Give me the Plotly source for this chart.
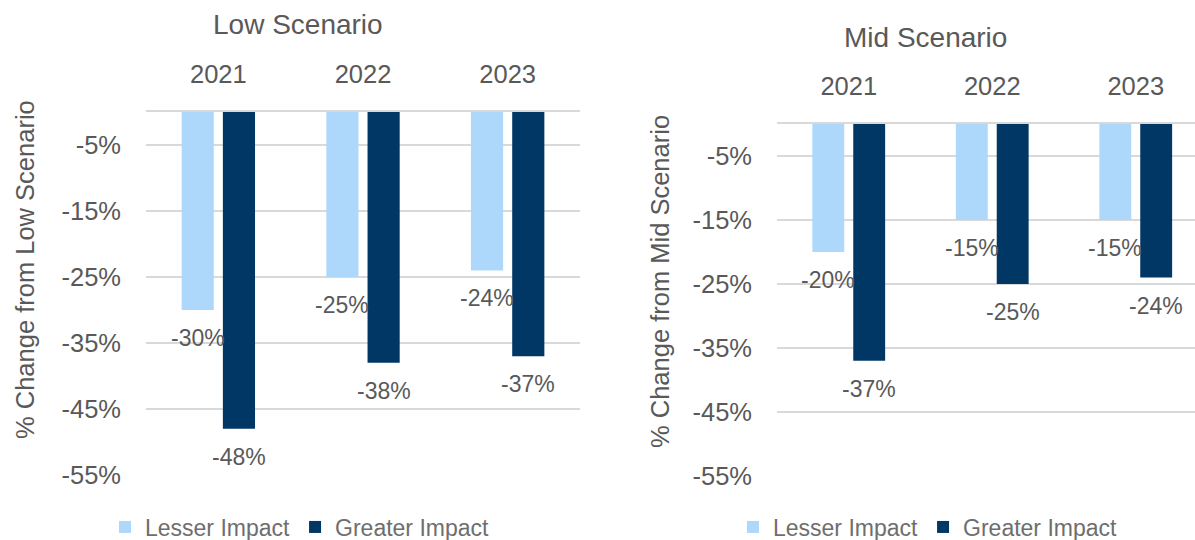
import plotly.graph_objects as go

# Data (percent change)
years = ["2021", "2022", "2023"]
low_lesser = [-30, -25, -24]
low_greater = [-48, -38, -37]
mid_lesser = [-20, -15, -15]
mid_greater = [-37, -25, -24]
tick_vals = [-5, -15, -25, -35, -45, -55]
tick_text = ["-5%", "-15%", "-25%", "-35%", "-45%", "-55%"]
series_names = ["Lesser Impact", "Greater Impact"]

W, H = 1195, 540
LIGHT = "#ADD8FB"
DARK = "#003764"
TEXT = "#595959"
GRID = "#D9D9D9"
FONT = "Liberation Sans"
BARGAP, GROUPGAP = 0.43, 0.22


def px_x(p):
    return p / W


def px_y(p):
    return 1 - p / H


fig = go.Figure()

panels = [
    dict(xa="x", ya="y", legend="legend", lesser=low_lesser, greater=low_greater),
    dict(xa="x2", ya="y2", legend="legend2", lesser=mid_lesser, greater=mid_greater),
]

for p in panels:
    for name, vals, color in [(series_names[0], p["lesser"], LIGHT),
                              (series_names[1], p["greater"], DARK)]:
        fig.add_trace(go.Bar(
            x=years, y=vals, name=name, marker=dict(color=color, line_width=0),
            xaxis=p["xa"], yaxis=p["ya"], legend=p["legend"], hoverinfo="skip",
        ))

# Value labels placed just below each bar end
slot = (1 - BARGAP) / 2
annotations = []
for p in panels:
    for k, vals in enumerate([p["lesser"], p["greater"]]):
        for i, v in enumerate(vals):
            annotations.append(dict(
                x=i + (k - 0.5) * slot, y=v, xref=p["xa"], yref=p["ya"],
                xanchor="center", yanchor="middle",
                text=f"{v}%", showarrow=False, yshift=-28,
                font=dict(family=FONT, size=23, color=TEXT),
            ))


def paper_text(x, y, text, size, angle=0):
    return dict(x=px_x(x), y=px_y(y), xref="paper", yref="paper", text=text,
                xanchor="center", yanchor="middle", textangle=angle,
                showarrow=False, font=dict(family=FONT, size=size, color=TEXT))


# Panel titles and axis titles
annotations += [
    paper_text(298, 25, "Low Scenario", 28),
    paper_text(925, 37, "Mid Scenario", 28),
    paper_text(25, 270, "% Change from Low Scenario", 25.5, -90),
    paper_text(660, 282, "% Change from Mid Scenario", 25.5, -90),
]

xcommon = dict(type="category", side="top", showgrid=False, showline=True,
               linecolor=GRID, linewidth=2, ticks="", ticklabelstandoff=17,
               tickfont=dict(family=FONT, size=25.5, color=TEXT), fixedrange=True)
ycommon = dict(range=[-55, 0], tickvals=tick_vals, ticktext=tick_text,
               showgrid=True, gridcolor=GRID, gridwidth=2, zeroline=False,
               showline=False, ticks="", ticklabelstandoff=24,
               tickfont=dict(family=FONT, size=25.5, color=TEXT), fixedrange=True)

legcommon = dict(orientation="h", xanchor="center", yanchor="middle", y=px_y(527),
                 font=dict(family=FONT, size=23, color="#6E6E6E"),
                 bgcolor="rgba(0,0,0,0)", traceorder="normal")

fig.update_layout(
    width=W, height=H,
    margin=dict(l=0, r=0, t=0, b=0, autoexpand=False),
    paper_bgcolor="white", plot_bgcolor="white",
    barmode="group", bargap=BARGAP, bargroupgap=GROUPGAP,
    xaxis=dict(xcommon, domain=[px_x(146), px_x(580)], anchor="y", range=[-0.5, 2.5]),
    yaxis=dict(ycommon, domain=[px_y(475), px_y(112)], anchor="x"),
    xaxis2=dict(xcommon, domain=[px_x(777), 1.0], anchor="y2", range=[-0.5, 2.413]),
    yaxis2=dict(ycommon, domain=[px_y(476), px_y(124)], anchor="x2"),
    legend=dict(legcommon, x=px_x(300)),
    legend2=dict(legcommon, x=px_x(928)),
    annotations=annotations,
    showlegend=True,
)

fig.write_html("out.html")
